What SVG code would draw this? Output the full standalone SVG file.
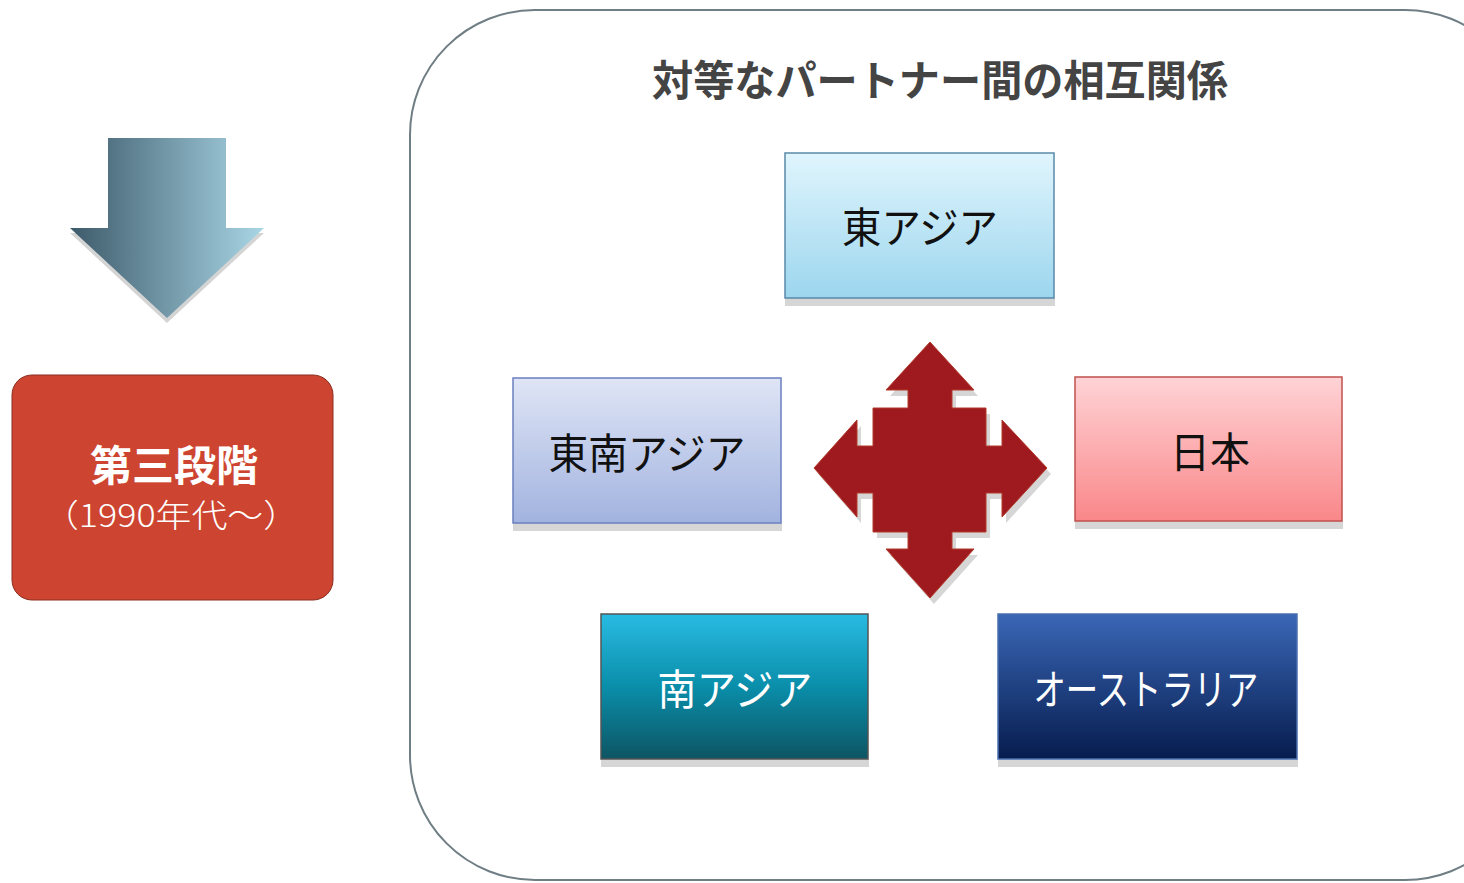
<svg xmlns="http://www.w3.org/2000/svg" width="1464" height="883" viewBox="0 0 1464 883">
<style>
.jp{font-family:"Noto Sans CJK JP","Noto Sans",sans-serif;}
.lbl{font-size:42px;text-anchor:middle;dominant-baseline:central;}
.dark{fill:#111;}
.light{fill:#fff;}
.shadow{fill:#d6d6d6;}
</style>
<defs>
<linearGradient id="gArrow" x1="0" y1="0" x2="1" y2="0">
<stop offset="0" stop-color="#3d5a6a"/><stop offset="1" stop-color="#a9d6e6"/>
</linearGradient>
<linearGradient id="gEast" x1="0" y1="0" x2="0" y2="1"><stop offset="0" stop-color="#e0f5fd"/><stop offset="1" stop-color="#9cd6ee"/></linearGradient>
<linearGradient id="gSE" x1="0" y1="0" x2="0" y2="1"><stop offset="0" stop-color="#dfe5f6"/><stop offset="1" stop-color="#a2b3df"/></linearGradient>
<linearGradient id="gJP" x1="0" y1="0" x2="0" y2="1"><stop offset="0" stop-color="#ffd3d6"/><stop offset="1" stop-color="#f98789"/></linearGradient>
<linearGradient id="gSA" x1="0" y1="0" x2="0" y2="1"><stop offset="0" stop-color="#29bbe3"/><stop offset="0.5" stop-color="#0a8eaa"/><stop offset="1" stop-color="#0d5563"/></linearGradient>
<linearGradient id="gAU" x1="0" y1="0" x2="0" y2="1"><stop offset="0" stop-color="#3a67b6"/><stop offset="1" stop-color="#061c4e"/></linearGradient>
</defs>

<g id="down-arrow">
<polygon points="108,143 226,143 226,233 264,233 167,323 70,233 108,233" fill="#d4d4d4"/>
<polygon points="108,138 226,138 226,228 264,228 167,318 70,228 108,228" fill="url(#gArrow)"/>
</g>

<g id="stage3">
<rect x="12" y="375" width="321" height="225" rx="20" fill="#cd4530" stroke="#8a2d20" stroke-width="1"/>
<text class="jp" x="174" y="462" font-size="42" font-weight="bold" fill="#fff" text-anchor="middle" dominant-baseline="central">第三段階</text>
<text class="jp" x="171" y="513" font-size="32" font-weight="300" fill="#fff" text-anchor="middle" dominant-baseline="central" textLength="256" lengthAdjust="spacingAndGlyphs">（1990年代〜）</text>
</g>

<g id="frame">
<rect x="410" y="10" width="1120" height="870" rx="125" fill="#fff" stroke="#6f7e84" stroke-width="2"/>
<text class="jp" x="940" y="77" font-size="42" font-weight="bold" fill="#444" text-anchor="middle" dominant-baseline="central" textLength="576" lengthAdjust="spacingAndGlyphs">対等なパートナー間の相互関係</text>
</g>

<g id="cross-arrow">
<polygon transform="translate(4,6)" fill="#d6d6d6" points="930,342 974,390 952,390 952,408 986,408 986,446 1002,446 1002,420 1047,468 1002,517 1002,493 986,493 986,532 952,532 952,549 974,549 930,598 886,549 908,549 908,532 873,532 873,493 857,493 857,517 814,468 857,420 857,446 873,446 873,408 908,408 908,390 886,390"/>
<polygon fill="#9f1a1f" stroke="#b23a2a" stroke-width="1" points="930,342 974,390 952,390 952,408 986,408 986,446 1002,446 1002,420 1047,468 1002,517 1002,493 986,493 986,532 952,532 952,549 974,549 930,598 886,549 908,549 908,532 873,532 873,493 857,493 857,517 814,468 857,420 857,446 873,446 873,408 908,408 908,390 886,390"/>
</g>

<g id="east-asia">
<rect class="shadow" x="785" y="298" width="270" height="8"/>
<rect x="785" y="153" width="269" height="145" fill="url(#gEast)" stroke="#5a89a8" stroke-width="1.5"/>
<text class="jp lbl dark" x="920" y="224" textLength="156" lengthAdjust="spacingAndGlyphs">東アジア</text>
</g>

<g id="southeast-asia">
<rect class="shadow" x="513" y="523" width="269" height="8"/>
<rect x="513" y="378" width="268" height="145" fill="url(#gSE)" stroke="#6a7fbf" stroke-width="1.5"/>
<text class="jp lbl dark" x="647" y="450" textLength="197" lengthAdjust="spacingAndGlyphs">東南アジア</text>
</g>

<g id="japan">
<rect class="shadow" x="1075" y="521" width="268" height="8"/>
<rect x="1075" y="377" width="267" height="144" fill="url(#gJP)" stroke="#c0504d" stroke-width="1.5"/>
<text class="jp lbl dark" x="1210" y="449" textLength="80" lengthAdjust="spacingAndGlyphs">日本</text>
</g>

<g id="south-asia">
<rect class="shadow" x="601" y="759" width="268" height="8"/>
<rect x="601" y="614" width="267" height="145" fill="url(#gSA)" stroke="#555" stroke-width="1.5"/>
<text class="jp lbl light" x="735" y="686" textLength="155" lengthAdjust="spacingAndGlyphs">南アジア</text>
</g>

<g id="australia">
<rect class="shadow" x="998" y="759" width="300" height="8"/>
<rect x="998" y="614" width="299" height="145" fill="url(#gAU)" stroke="#4a6fb0" stroke-width="1.5"/>
<text class="jp lbl light" x="1146" y="686" textLength="225" lengthAdjust="spacingAndGlyphs">オーストラリア</text>
</g>

<g id="connectors"></g>
</svg>
